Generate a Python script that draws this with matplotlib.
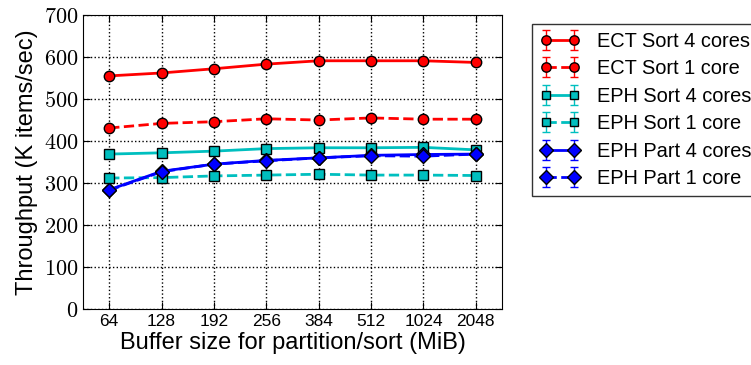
import matplotlib
matplotlib.use("Agg")
import matplotlib.pyplot as plt
import numpy as np

categories = ["64", "128", "192", "256", "384", "512", "1024", "2048"]
y_ticks = [0, 100, 200, 300, 400, 500, 600, 700]
ect_sort_4 = [555, 562, 572, 583, 591, 591, 591, 587]
ect_sort_1 = [431, 442, 446, 453, 450, 455, 452, 452]
eph_sort_4 = [369, 372, 376, 382, 384, 384, 385, 379]
eph_sort_1 = [312, 313, 317, 319, 321, 319, 319, 318]
eph_part_4 = [284, 328, 345, 354, 360, 366, 368, 369]
eph_part_1 = [283, 327, 345, 353, 360, 365, 364, 369]
err = [6, 4, 4, 4, 4, 4, 4, 4]

plt.rcParams['font.family'] = ['Liberation Sans', 'DejaVu Sans']
plt.rcParams['mathtext.fontset'] = 'cm'
fig = plt.figure(figsize=(7.51, 3.65), dpi=100)
ax = fig.add_axes([0.1105, 0.153, 0.558, 0.806])

x = np.arange(len(categories))
series = [
    (ect_sort_4, "ECT Sort 4 cores", "red", "o", "-", 7.5),
    (ect_sort_1, "ECT Sort 1 core", "red", "o", "--", 7.5),
    (eph_sort_4, "EPH Sort 4 cores", "#00bfbf", "s", "-", 7),
    (eph_sort_1, "EPH Sort 1 core", "#00bfbf", "s", "--", 7),
    (eph_part_4, "EPH Part 4 cores", "blue", "D", "-", 7.5),
    (eph_part_1, "EPH Part 1 core", "blue", "D", "--", 7.5),
]
for vals, lab, col, mk, ls, ms in series:
    ax.errorbar(x, vals, yerr=err, color=col, marker=mk, linestyle=ls,
                markersize=ms, markeredgecolor="black", markeredgewidth=1,
                linewidth=2, capsize=3, elinewidth=1, label=lab)

ax.set_xlim(-0.5, 7.5)
ax.set_ylim(0, 700)
ax.set_xticks(x)
ax.set_xticklabels(categories, fontsize=12.5)
ax.set_yticks(y_ticks)
ax.set_yticklabels([f"${v}$" for v in y_ticks], fontsize=16)
ax.tick_params(direction="in", top=True, right=True, length=5)
ax.grid(True, linestyle=":", color="black", linewidth=1)
ax.set_xlabel("Buffer size for partition/sort (MiB)", fontsize=17, labelpad=2)
ax.set_ylabel("Throughput (K items/sec)", fontsize=17, labelpad=4)
ax.legend(loc="upper left", bbox_to_anchor=(1.0723, 0.969), fontsize=14.4,
          frameon=True, fancybox=False, edgecolor="black", borderaxespad=0,
          handlelength=2.0, handletextpad=0.83, numpoints=2, labelspacing=0.42,
          markerscale=0.9)
fig.savefig("out.png", dpi=100)
